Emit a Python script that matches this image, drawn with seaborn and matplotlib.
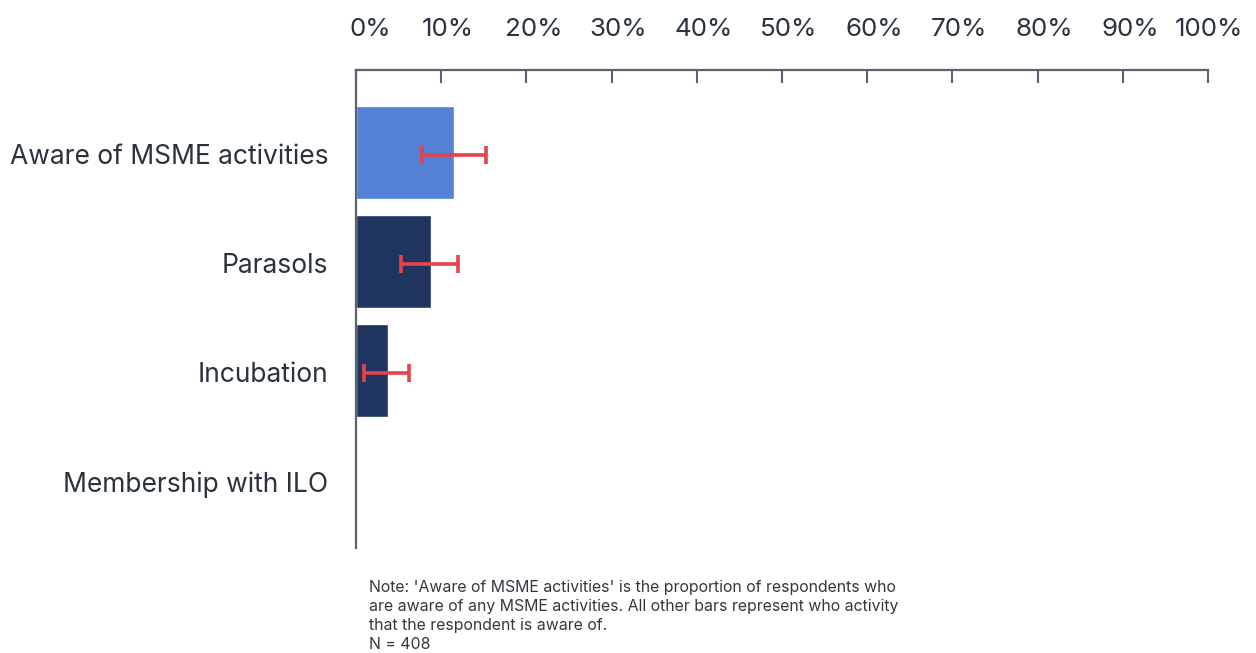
import matplotlib
matplotlib.use("Agg")
import matplotlib.pyplot as plt
import matplotlib.transforms as mtransforms
import numpy as np
import pandas as pd
import seaborn as sns

# Awareness of MSME support activities (percent of respondents)
categories = ["Aware of MSME activities", "Parasols", "Incubation", "Membership with ILO"]
values = [11.5, 8.8, 3.8, 0.0]
ci_low = [7.7, 5.3, 0.9, np.nan]
ci_high = [15.3, 12.0, 6.2, np.nan]
groups = ["overall", "activity", "activity", "activity"]
tick_values = [0, 10, 20, 30, 40, 50, 60, 70, 80, 90, 100]
tick_labels = [f"{v}%" for v in tick_values]
note_lines = [
    "Note: 'Aware of MSME activities' is the proportion of respondents who",
    "are aware of any MSME activities. All other bars represent who activity",
    "that the respondent is aware of.",
    "N = 408",
]

sns.set_theme(style="white")
plt.rcParams["font.family"] = ["Inter", "DejaVu Sans"]

TEXT = "#2a323d"
AXIS = "#5b636e"
palette = {"overall": "#5481d6", "activity": "#1f345e"}

df = pd.DataFrame({"category": categories, "value": values, "group": groups})

fig = plt.figure(figsize=(12.56, 6.53), dpi=100)
ax = fig.add_axes([0.2834, 0.1608, 0.6784, 0.7320])

sns.barplot(data=df, x="value", y="category", hue="group", palette=palette,
            dodge=False, orient="h", width=0.85, legend=False, ax=ax,
            saturation=1, errorbar=None)

ypos = np.arange(len(categories))
vals = np.array(values)
lo = vals - np.array(ci_low)
hi = np.array(ci_high) - vals
ax.errorbar(vals, ypos + 0.02, xerr=[lo, hi], fmt="none", ecolor="#e5424b",
            elinewidth=2.6, capsize=6.5, capthick=2.6, zorder=5)

ax.set_xlim(0, 100)
ax.set_ylim(3.63, -0.757)
ax.set_xlabel("")
ax.set_ylabel("")

ax.xaxis.tick_top()
ax.set_xticks(tick_values)
ax.set_xticklabels(tick_labels)
ax.tick_params(axis="x", direction="in", length=9.5, width=1.5, color=AXIS,
               labelsize=18.7, labelcolor=TEXT, pad=21)
ax.tick_params(axis="y", length=0, labelsize=19, labelcolor=TEXT, pad=20)

# nudge the percentage labels right, keeping the end labels inside the figure
labels = ax.get_xticklabels()
for i, lbl in enumerate(labels):
    dx = 7
    if i == 0:
        dx = 14
    elif i == len(labels) - 1:
        dx = 1
    off = mtransforms.ScaledTranslation(dx / 100, 0, fig.dpi_scale_trans)
    lbl.set_transform(lbl.get_transform() + off)
for lbl in ax.get_yticklabels():
    off = mtransforms.ScaledTranslation(0, -2 / 100, fig.dpi_scale_trans)
    lbl.set_transform(lbl.get_transform() + off)

for side in ("right", "bottom"):
    ax.spines[side].set_visible(False)
for side in ("top", "left"):
    ax.spines[side].set_color(AXIS)
    ax.spines[side].set_linewidth(1.6)

fig.text(369 / 1256, 1 - 580 / 653, "\n".join(note_lines), fontsize=11.4,
         color="#333840", va="top", ha="left", linespacing=1.33)

fig.savefig("out.png", dpi=100)
